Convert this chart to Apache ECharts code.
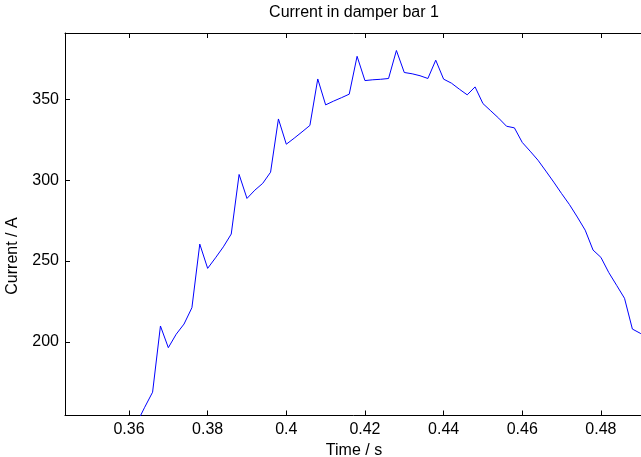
<!DOCTYPE html>
<html>
<head>
<meta charset="utf-8">
<script src="https://cdn.jsdelivr.net/npm/echarts@6/dist/echarts.min.js"></script>
<style>
html,body{margin:0;padding:0;background:#fff;}
#chart{width:641px;height:457px;}
</style>
</head>
<body>
<div id="chart"></div>
<script>
var times = [0.360, 0.362, 0.364, 0.366, 0.368, 0.370, 0.372, 0.374, 0.376, 0.378,
  0.380, 0.382, 0.384, 0.386, 0.388, 0.390, 0.392, 0.394, 0.396, 0.398,
  0.400, 0.402, 0.404, 0.406, 0.408, 0.410, 0.412, 0.414, 0.416, 0.418,
  0.420, 0.422, 0.424, 0.426, 0.428, 0.430, 0.432, 0.434, 0.436, 0.438,
  0.440, 0.442, 0.444, 0.446, 0.448, 0.450, 0.452, 0.454, 0.456, 0.458,
  0.460, 0.462, 0.464, 0.466, 0.468, 0.470, 0.472, 0.474, 0.476, 0.478,
  0.480, 0.482, 0.484, 0.486, 0.488, 0.490, 0.492];
var current = [141, 150, 159.7, 169.0, 209.9, 196.5, 204.8, 211.1, 221.2, 260.5,
  245.5, 252.0, 258.8, 266.7, 303.5, 288.7, 293.8, 298.0, 304.9, 337.8,
  322.2, 325.9, 329.8, 333.8, 362.5, 346.5, 348.8, 350.9, 353.1, 376.5,
  361.5, 362.0, 362.3, 362.8, 380.1, 366.5, 365.7, 364.5, 362.8, 374.1,
  362.4, 359.9, 356.2, 352.7, 357.6, 347.3, 342.8, 338.3, 333.3, 332.3,
  323.3, 317.9, 312.3, 305.6, 298.8, 291.7, 284.9, 277.2, 269.1, 256.8,
  252.3, 242.9, 235.0, 227.0, 208.0, 205.4, 201];
var xTicks = [0.36, 0.38, 0.40, 0.42, 0.44, 0.46, 0.48];
var yTicks = [200, 250, 300, 350];
var titleText = 'Current in damper bar 1';
var xName = 'Time / s';
var yName = 'Current / A';

var FONT = '"Liberation Sans", Arial, Helvetica, sans-serif';
var FS = 16;
var data = times.map(function (t, i) { return [t, current[i]]; });

var chart = echarts.init(document.getElementById('chart'), null, {renderer: 'canvas'});
chart.setOption({
  animation: false,
  backgroundColor: '#ffffff',
  title: {
    text: titleText,
    left: 354,
    top: 5,
    padding: 0,
    textAlign: 'center',
    textStyle: {fontFamily: FONT, fontSize: FS, fontWeight: 'normal', color: '#000'}
  },
  grid: {left: 65, top: 33, width: 578, height: 382.5, containLabel: false, outerBoundsMode: 'none'},
  xAxis: [{
    type: 'value',
    position: 'bottom',
    min: 0.34373,
    max: 0.4907,
    name: xName,
    nameLocation: 'middle',
    nameGap: 24.5,
    nameTextStyle: {fontFamily: FONT, fontSize: FS, color: '#000'},
    axisLine: {show: true, onZero: false, lineStyle: {color: '#000', width: 1}},
    axisTick: {show: true, inside: true, length: 5, customValues: xTicks, lineStyle: {color: '#000'}},
    axisLabel: {
      show: true, margin: 6, customValues: xTicks,
      fontFamily: FONT, fontSize: FS, color: '#000',
      formatter: function (v) { return String(parseFloat(Number(v).toFixed(2))); }
    },
    splitLine: {show: false}
  }, {
    type: 'value',
    position: 'top',
    min: 0.34373,
    max: 0.4907,
    axisLine: {show: true, onZero: false, lineStyle: {color: '#000', width: 1}},
    axisTick: {show: true, inside: true, length: 5, customValues: xTicks, lineStyle: {color: '#000'}},
    axisLabel: {show: false},
    splitLine: {show: false}
  }],
  yAxis: {
    type: 'value',
    min: 154.6,
    max: 390.9,
    axisLine: {show: true, onZero: false, lineStyle: {color: '#000', width: 1}},
    axisTick: {show: true, inside: true, length: 5, customValues: yTicks, lineStyle: {color: '#000'}},
    axisLabel: {
      show: true, margin: 6, customValues: yTicks,
      fontFamily: FONT, fontSize: FS, color: '#000'
    },
    splitLine: {show: false}
  },
  graphic: [{
    type: 'text',
    x: 13,
    y: 256,
    rotation: Math.PI / 2,
    style: {
      text: yName,
      fontFamily: FONT,
      fontSize: FS,
      fill: '#000',
      align: 'center',
      verticalAlign: 'middle'
    }
  }],
  series: [{
    type: 'line',
    xAxisIndex: 0,
    yAxisIndex: 0,
    data: data,
    showSymbol: false,
    symbol: 'none',
    clip: true,
    lineStyle: {color: '#0000ff', width: 1},
    emphasis: {disabled: true}
  }]
});
</script>
</body>
</html>
